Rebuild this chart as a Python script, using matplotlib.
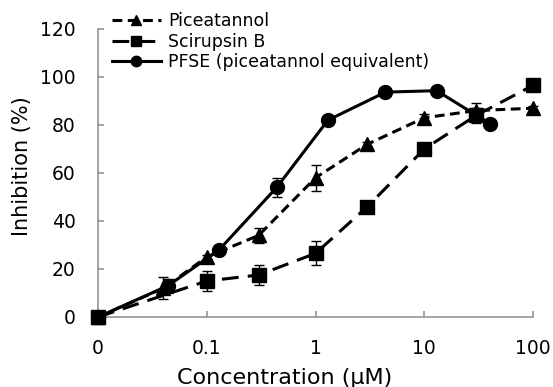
import numpy as np
import matplotlib
matplotlib.use('Agg')
from matplotlib import pyplot as plt

# 0 on the axis is drawn at 0.01 (one decade left of 0.1)
ZERO = 0.01

pic_x = [0, 0.04, 0.1, 0.3, 1, 3, 10, 30, 100]
pic_y = [0, 12, 25, 34, 58, 72, 83, 86, 87]
pic_err = [0, 4.5, 1, 3, 5.5, 1, 1.5, 3, 1]

sci_x = [0, 0.1, 0.3, 1, 3, 10, 30, 100]
sci_y = [0, 15, 17.5, 26.5, 46, 70, 84, 96.5]
sci_err = [0, 4, 4, 5, 1, 2.5, 3, 1]

pfse_x = [0, 0.044, 0.13, 0.44, 1.3, 4.4, 13, 40]
pfse_y = [0, 13, 28, 54, 82, 93.7, 94.3, 80.6]
pfse_err = [0, 3, 1, 4, 1, 1, 1, 1]

xticks = [ZERO, 0.1, 1, 10, 100]
xtick_labels = ['0', '0.1', '1', '10', '100']
yticks = [0, 20, 40, 60, 80, 100, 120]


def xpos(vals):
    return [ZERO if v == 0 else v for v in vals]


fig = plt.figure(figsize=(5.53, 3.87), dpi=100)
ax = fig.add_axes([98/553, 1-317/387, 435/553, 288/387])

lw = 2.2
series = [
    (pic_x, pic_y, pic_err, '^', 10, (3.2, 1.8), 'Piceatannol'),
    (sci_x, sci_y, sci_err, 's', 10, (5.5, 3.0), 'Scirupsin B'),
    (pfse_x, pfse_y, pfse_err, 'o', 10, None, 'PFSE (piceatannol equivalent)'),
]
handles = []
for x, y, err, mk, ms, dash, lab in series:
    xs = xpos(x)
    ax.errorbar(xs, y, yerr=err, fmt='none', ecolor='black', elinewidth=1.0,
                capsize=3.5, capthick=1.0, clip_on=False, zorder=2)
    line, = ax.plot(xs, y, color='black', lw=lw, marker=mk, markersize=ms,
                    clip_on=False, zorder=3, label=lab)
    if dash is not None:
        line.set_dashes(dash)
    handles.append(line)

ax.set_xscale('log')
ax.set_xlim(ZERO, 100)
ax.set_ylim(0, 120)
ax.set_xticks(xticks)
ax.set_xticklabels(xtick_labels)
ax.xaxis.set_minor_locator(matplotlib.ticker.NullLocator())
ax.set_yticks(yticks)

for s in ['top', 'right']:
    ax.spines[s].set_visible(False)
for s in ['left', 'bottom']:
    ax.spines[s].set_color('#8c8c8c')
    ax.spines[s].set_linewidth(1.1)

ax.tick_params(axis='both', direction='in', length=4, width=1.1,
               color='#8c8c8c', labelsize=13.5, labelcolor='black')
ax.tick_params(axis='y', pad=16)
ax.tick_params(axis='x', pad=16)

ax.set_xlabel('Concentration (\u03bcM)', fontsize=16, va='center')
ax.xaxis.set_label_coords(0.429, -0.212)
ax.set_ylabel('Inhibition (%)', fontsize=15, va='center')
ax.yaxis.set_label_coords(-0.175, 0.524)

fig.legend(handles=handles, loc='upper left', bbox_to_anchor=(112/553, 1-12/387),
           frameon=False, fontsize=12.5, handlelength=2.8, handletextpad=0.45,
           labelspacing=0.15, borderpad=0, borderaxespad=0, markerscale=0.75)

fig.savefig('out.png', dpi=100)
